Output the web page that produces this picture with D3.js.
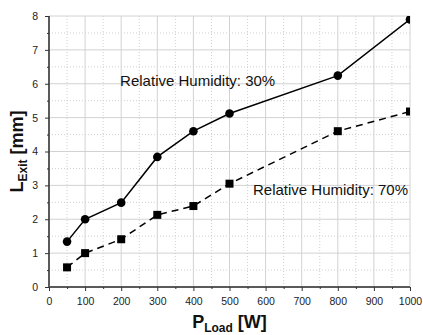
<!DOCTYPE html>
<html><head><meta charset="utf-8">
<script src="https://cdn.jsdelivr.net/npm/d3@7"></script>
<style>body{margin:0;background:#fff}svg{display:block}text{font-family:Arial,"Liberation Sans",sans-serif}</style>
</head><body><svg id="c" width="423" height="335"></svg>
<script>
const loads = [50, 100, 200, 300, 400, 500, 800, 1000];
const rh30 = [1.34, 2.0, 2.49, 3.84, 4.6, 5.12, 6.24, 7.9];
const rh70 = [0.58, 1.0, 1.41, 2.13, 2.39, 3.05, 4.6, 5.18];
const xTicks = [0,100,200,300,400,500,600,700,800,900,1000];
const yTicks = [0,1,2,3,4,5,6,7,8];
const label30 = "Relative Humidity: 30%";
const label70 = "Relative Humidity: 70%";

const svg = d3.select("#c");
const m = {l:49, r:13, t:16, b:48};
const W = 423, H = 335;
const x = d3.scaleLinear().domain([0,1000]).range([m.l, W-m.r]);
const y = d3.scaleLinear().domain([0,8]).range([H-m.b, m.t]);

svg.append("defs").append("clipPath").attr("id","clip").append("rect")
  .attr("x",m.l).attr("y",m.t).attr("width",W-m.r-m.l).attr("height",H-m.b-m.t);

const g = svg.append("g");
const xMinor = d3.range(50,1000,100), yMinor = d3.range(0.5,8,1);
g.selectAll(".xm").data(xMinor).join("line").attr("x1",d=>x(d)).attr("x2",d=>x(d))
  .attr("y1",y(0)).attr("y2",y(8)).attr("stroke","#cfcfcf").attr("stroke-dasharray","1,2").attr("stroke-width",1);
g.selectAll(".ym").data(yMinor).join("line").attr("y1",d=>y(d)).attr("y2",d=>y(d))
  .attr("x1",x(0)).attr("x2",x(1000)).attr("stroke","#cfcfcf").attr("stroke-dasharray","1,2").attr("stroke-width",1);
g.selectAll(".xg").data(xTicks.slice(1)).join("line").attr("x1",d=>x(d)).attr("x2",d=>x(d))
  .attr("y1",y(0)).attr("y2",y(8)).attr("stroke","#d2d2d2").attr("stroke-width",1);
g.selectAll(".yg").data(yTicks.slice(1)).join("line").attr("y1",d=>y(d)).attr("y2",d=>y(d))
  .attr("x1",x(0)).attr("x2",x(1000)).attr("stroke","#d2d2d2").attr("stroke-width",1);

const xAx = svg.append("g").attr("transform",`translate(0,${y(0)})`)
  .call(d3.axisBottom(x).tickValues(xTicks).tickFormat(d3.format("d")).tickSize(4).tickPadding(7));
const xMinorT = svg.append("g").attr("transform",`translate(0,${y(0)})`)
  .call(d3.axisBottom(x).tickValues(xMinor).tickFormat("").tickSize(2));
xMinorT.select(".domain").remove();
const yAx = svg.append("g").attr("transform",`translate(${x(0)},0)`)
  .call(d3.axisLeft(y).tickValues(yTicks).tickFormat(d3.format("d")).tickSize(4).tickPadding(7));
const yMinorT = svg.append("g").attr("transform",`translate(${x(0)},0)`)
  .call(d3.axisLeft(y).tickValues(yMinor).tickFormat("").tickSize(2));
yMinorT.select(".domain").remove();
[xAx,yAx,xMinorT,yMinorT].forEach(a=>{
  a.selectAll("path.domain").attr("stroke","#5a5a5a").attr("stroke-width",2);
  a.selectAll(".tick line").attr("stroke","#333").attr("stroke-width",1);
  a.selectAll(".tick text").attr("font-size",10.5).attr("fill","#222").attr("font-family","Arial, 'Liberation Sans', sans-serif");
});
xAx.select(".domain").attr("d",`M${x(0)},0H${x(1000)}`);
yAx.select(".domain").attr("d",`M0,${y(0)}V${y(8)}`);

const pts30 = loads.map((d,i)=>[d,rh30[i]]);
const pts70 = loads.map((d,i)=>[d,rh70[i]]);
const line = d3.line().x(d=>x(d[0])).y(d=>y(d[1]));
const plot = svg.append("g").attr("clip-path","url(#clip)");
plot.append("path").attr("d",line(pts30)).attr("fill","none").attr("stroke","#000").attr("stroke-width",1.5);
plot.append("path").attr("d",line(pts70)).attr("fill","none").attr("stroke","#000").attr("stroke-width",1.5).attr("stroke-dasharray","7,5");
plot.selectAll(".c").data(pts30).join("circle").attr("cx",d=>x(d[0])).attr("cy",d=>y(d[1])).attr("r",4.3).attr("fill","#000");
plot.selectAll(".s").data(pts70).join("rect").attr("x",d=>x(d[0])-4).attr("y",d=>y(d[1])-4).attr("width",8).attr("height",8).attr("fill","#000");

svg.append("text").attr("x",x(197)).attr("y",y(5.93)).attr("font-size",15).attr("fill","#111").text(label30);
svg.append("text").attr("x",x(565)).attr("y",y(2.72)).attr("font-size",15).attr("fill","#111").text(label70);

const xt = svg.append("text").attr("x",(x(0)+x(1000))/2).attr("y",328).attr("text-anchor","middle")
  .attr("font-size",18).attr("font-weight","bold").attr("fill","#111");
xt.append("tspan").text("P");
xt.append("tspan").attr("font-size",12).attr("dy",4).text("Load");
xt.append("tspan").attr("dy",-4).text(" [W]");
const yt = svg.append("text").attr("transform",`translate(23,${(y(0)+y(8))/2}) rotate(-90)`).attr("text-anchor","middle")
  .attr("font-size",18).attr("font-weight","bold").attr("fill","#111");
yt.append("tspan").text("L");
yt.append("tspan").attr("font-size",12).attr("dy",4).text("Exit");
yt.append("tspan").attr("dy",-4).text(" [mm]");
</script></body></html>
